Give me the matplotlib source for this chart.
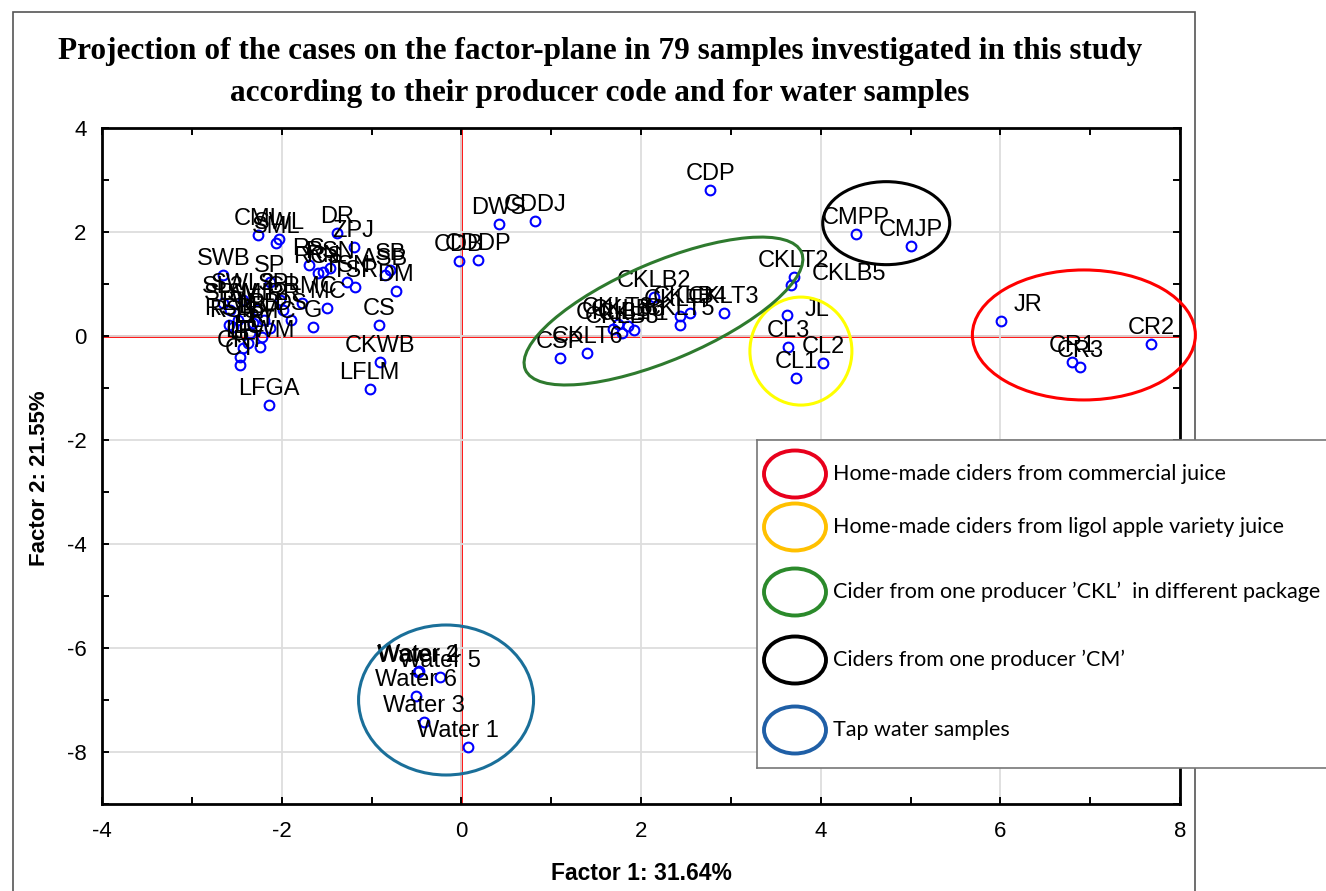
"""
PCA factor-plane projection of the cider / water samples,
with group rings and a hand-made legend box.
"""
import numpy as np
import matplotlib
matplotlib.use("Agg")
import matplotlib.pyplot as plt
from matplotlib.patches import Ellipse, Rectangle
from matplotlib.transforms import ScaledTranslation

plt.rcParams['axes.unicode_minus'] = False

#------------------------------------------------------------
# sample scores (Factor 1, Factor 2)
left_names = ["CML", "SML", "SWL", "DR", "ZPJ", "SWB", "SP", "RS", "RCS",
              "RN", "RSN", "TSN", "TSR", "ASB", "SB", "DM", "MC", "G", "CS",
              "CKWB", "LFLM", "LFGA", "CT", "CRT", "RSP", "RSB", "LC",
              "LFWM", "SMC", "SPL", "CRMC", "SML2", "SWL2", "SL2", "SBW",
              "LW", "LB", "RB", "RR", "DS", "LR", "LT", "LF"]
left_f1 = [-2.26, -2.06, -2.03, -1.38, -1.20, -2.65, -2.13, -1.70, -1.59,
           -1.54, -1.46, -1.27, -1.18, -0.85, -0.79, -0.73, -1.49, -1.65,
           -0.92, -0.90, -1.02, -2.14, -2.46, -2.46, -2.54, -2.59, -2.37,
           -2.24, -2.13, -2.02, -1.77, -2.27, -2.43, -2.65, -2.57, -2.49,
           -2.32, -2.20, -1.98, -1.90, -2.35, -2.22, -2.43]
left_f2 = [1.94, 1.79, 1.87, 1.98, 1.71, 1.17, 1.04, 1.37, 1.21,
           1.23, 1.31, 1.04, 0.94, 1.17, 1.27, 0.87, 0.54, 0.17,
           0.21, -0.50, -1.02, -1.33, -0.56, -0.40, 0.17, 0.21, -0.13,
           -0.21, 0.15, 0.69, 0.63, 0.50, 0.69, 0.63, 0.50, 0.31,
           0.25, 0.31, 0.50, 0.31, 0.06, -0.02, -0.23]

mid_names = ["CDP", "DWS", "CDDJ", "CDB", "CDDP", "CSP"]
mid_f1 = [2.77, 0.42, 0.82, -0.03, 0.19, 1.10]
mid_f2 = [2.81, 2.15, 2.21, 1.44, 1.46, -0.43]

ckl_names = ["CKLB2", "CKLT7", "CKLB4", "CKLT5", "CKLT3", "CKLB1", "CKLB3",
             "CKLB6", "CKLT1", "CKLT8", "CKLT6", "CKLT2", "CKLB5"]
ckl_f1 = [2.14, 2.43, 2.55, 2.43, 2.92, 1.69, 1.79, 1.86, 1.92, 1.74,
          1.40, 3.70, 3.67]
ckl_f2 = [0.75, 0.38, 0.44, 0.21, 0.44, 0.13, 0.06, 0.19, 0.12, 0.23,
          -0.33, 1.13, 0.98]

cm_names = ["CMPP", "CMJP"]
cm_f1 = [4.39, 5.00]
cm_f2 = [1.96, 1.73]

ligol_names = ["JL", "CL3", "CL2", "CL1"]
ligol_f1 = [3.63, 3.64, 4.03, 3.73]
ligol_f2 = [0.40, -0.21, -0.52, -0.81]

comm_names = ["JR", "CR1", "CR3", "CR2"]
comm_f1 = [6.01, 6.80, 6.89, 7.68]
comm_f2 = [0.29, -0.50, -0.60, -0.15]

water_names = ["Water 1", "Water 2", "Water 3", "Water 4", "Water 5", "Water 6"]
water_f1 = [0.07, -0.48, -0.42, -0.47, -0.24, -0.50]
water_f2 = [-7.90, -6.46, -7.42, -6.44, -6.56, -6.92]

names = (left_names + mid_names + ckl_names + cm_names + ligol_names
         + comm_names + water_names)
f1 = np.array(left_f1 + mid_f1 + ckl_f1 + cm_f1 + ligol_f1 + comm_f1 + water_f1)
f2 = np.array(left_f2 + mid_f2 + ckl_f2 + cm_f2 + ligol_f2 + comm_f2 + water_f2)

# labels that Statistica pushed sideways (offset points)
label_offsets = {"JR": (19, 3.5), "JL": (21, -4), "CKLB5": (42, 0),
                 "Water 1": (-7, 3.5)}

legend_text = ["Home-made ciders from commercial juice",
               "Home-made ciders from ligol apple variety juice",
               "Cider from one producer \u2019CKL\u2019  in different package",
               "Ciders from one producer \u2019CM\u2019",
               "Tap water samples"]

#------------------------------------------------------------
W, H = 1326, 891
fig = plt.figure(figsize=(W / 100, H / 100), dpi=100)
fig.patch.set_facecolor('white')

# outer frame of the pasted picture
fig.add_artist(Rectangle((13 / W, -0.02), (1195 - 13) / W, (H - 12) / H + 0.02,
                         transform=fig.transFigure, fill=False,
                         edgecolor='#555555', lw=1.2, zorder=-1))

ax = fig.add_axes([102 / W, 1 - 804 / H, (1180 - 102) / W, (804 - 128) / H])

ax.set_xlim(-4, 8)
ax.set_ylim(-9, 4)
ax.set_xticks(np.arange(-4, 9, 2))
ax.set_yticks(np.arange(-8, 5, 2))
ax.set_xticks(np.arange(-4, 9, 1), minor=True)
ax.set_yticks(np.arange(-9, 5, 1), minor=True)
ax.grid(True, which='major', color='#dddddd', lw=1.3, zorder=0)
ax.tick_params(which='both', direction='in', top=True, right=True,
               length=5, width=1.4, labelsize=16)
ax.tick_params(axis='x', which='major', pad=12)
ax.tick_params(axis='y', which='major', pad=11)
for lab in ax.get_xticklabels() + ax.get_yticklabels():
    lab.set_family('Liberation Sans')
for sp in ax.spines.values():
    sp.set_linewidth(2)

ax.axhline(0, color='#ff0000', lw=2, zorder=1)
ax.axvline(0, color='#ff0000', lw=2, zorder=1)

ax.plot(f1, f2, 'o', ms=7, mfc='none', mec='#0000ff', mew=1.5, zorder=3)
for name, x, y in zip(names, f1, f2):
    dx, dy = label_offsets.get(name, (0, 3.5))
    ax.annotate(name, (x, y), xytext=(dx, dy), textcoords='offset points',
                ha='center', va='bottom', fontsize=17,
                family='Liberation Sans', zorder=4)

ax.set_xlabel('Factor 1: 31.64%', fontsize=16.5, fontweight='bold',
              family='Liberation Sans')
ax.set_ylabel('Factor 2: 21.55%', fontsize=16, fontweight='bold',
              family='Liberation Sans')
ax.xaxis.set_label_coords(0.5, (804 - 862) / (804 - 128))
ax.yaxis.set_label_coords((50 - 102) / (1180 - 102), (804 - 478) / (804 - 128))

# group rings: centre in data units, size in pixels
rings = [((6.93, 0.02), 223, 130, 0, '#ff0000'),
         ((3.78, -0.29), 102, 108, 0, '#ffff00'),
         ((2.25, 0.48), 300, 98, 23, '#2e7a2e'),
         ((4.73, 2.17), 127, 83, 0, 'black'),
         ((-0.17, -7.00), 175, 150, 0, '#1a6f99')]
for (cx, cy), w, h, ang, col in rings:
    tr = fig.dpi_scale_trans + ScaledTranslation(cx, cy, ax.transData)
    ax.add_patch(Ellipse((0, 0), w / 100, h / 100, angle=ang, transform=tr,
                         fill=False, edgecolor=col, lw=2.2, clip_on=False,
                         zorder=5))

fig.text(600 / W, 1 - 51 / H,
         'Projection of the cases on the factor-plane in 79 samples '
         'investigated in this study',
         ha='center', va='center', fontsize=22.5, fontweight='bold',
         family='Liberation Serif')
fig.text(600 / W, 1 - 93 / H,
         'according to their producer code and for water samples',
         ha='center', va='center', fontsize=22.5, fontweight='bold',
         family='Liberation Serif')

#------------------------------------------------------------
# legend box (drawn in pixel units)
lw_px = 1326 - 757 + 20
lax = fig.add_axes([757 / W, 1 - 768 / H, lw_px / W, (768 - 440) / H])
lax.set_zorder(6)
lax.set_xlim(0, lw_px)
lax.set_ylim(328, 0)
lax.set_xticks([])
lax.set_yticks([])
for sp in lax.spines.values():
    sp.set_color('#777777')
    sp.set_linewidth(1.2)

leg_colors = ['#e8001c', '#ffc000', '#2b8a2b', 'black', '#1f5fa6']
leg_y = [34, 87, 152, 220, 290]
for txt, col, y in zip(legend_text, leg_colors, leg_y):
    lax.add_patch(Ellipse((38, y), 62, 47, fill=False, edgecolor=col, lw=2.8))
    lax.text(76, y, txt, ha='left', va='center', fontsize=15.5, family='Lato')

fig.savefig('out.png', dpi=100)
